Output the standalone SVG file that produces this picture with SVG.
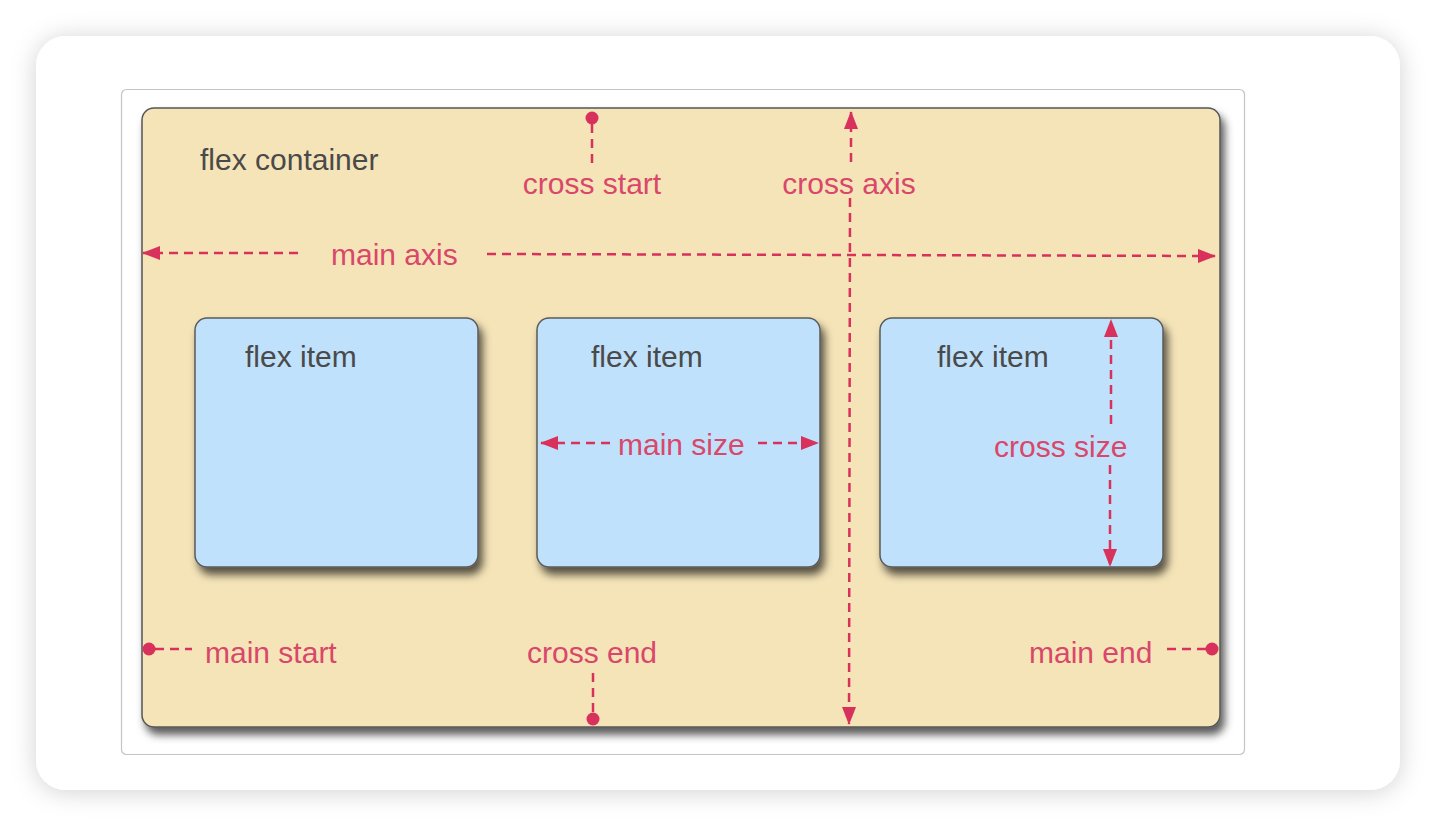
<svg xmlns="http://www.w3.org/2000/svg" width="1436" height="826" viewBox="0 0 1436 826">
  <defs>
    <filter id="cardShadow" x="-10%" y="-10%" width="120%" height="125%">
      <feDropShadow dx="0" dy="2" stdDeviation="12" flood-color="#000" flood-opacity="0.18"/>
    </filter>
    <filter id="boxShadow" x="-10%" y="-10%" width="125%" height="130%">
      <feDropShadow dx="4" dy="7" stdDeviation="4.5" flood-color="#000" flood-opacity="0.65"/>
    </filter>
    <marker id="arrow" viewBox="0 0 18 14" refX="17" refY="7" markerWidth="18" markerHeight="14" markerUnits="userSpaceOnUse" orient="auto-start-reverse">
      <path d="M0,0 L18,7 L0,14 Z" fill="#d8315b"/>
    </marker>
  </defs>
  <style>
    .lbl { font-family: "Liberation Sans", Arial, Helvetica, sans-serif; font-size: 30px; }
    .dark { fill: #4a4a4a; }
    .red { fill: #d9476a; }
    .dash { stroke: #d8315b; stroke-width: 2.5; stroke-dasharray: 9 6; fill: none; }
    .dot { fill: #d8315b; }
    .item { fill: #c0e1fb; stroke: #5a5a5a; stroke-width: 1.5; }
  </style>

  <rect x="0" y="0" width="1436" height="826" fill="#ffffff"/>
  <rect id="card" x="36" y="36" width="1364" height="754" rx="30" fill="#ffffff" filter="url(#cardShadow)"/>
  <rect id="frame" x="121.5" y="89.5" width="1123" height="665" rx="5" fill="#ffffff" stroke="#c4c4c4" stroke-width="1.2"/>

  <g id="container">
    <rect x="142" y="108" width="1078" height="619" rx="12" fill="#f5e4b8" stroke="#555555" stroke-width="1.5" filter="url(#boxShadow)"/>
    <text class="lbl dark" x="200" y="170">flex container</text>
  </g>

  <g id="item1">
    <rect class="item" x="195" y="318" width="283" height="249" rx="12" filter="url(#boxShadow)"/>
    <text class="lbl dark" x="245" y="367">flex item</text>
  </g>
  <g id="item2">
    <rect class="item" x="537" y="318" width="283" height="249" rx="12" filter="url(#boxShadow)"/>
    <text class="lbl dark" x="591" y="367">flex item</text>
  </g>
  <g id="item3">
    <rect class="item" x="880" y="318" width="283" height="249" rx="12" filter="url(#boxShadow)"/>
    <text class="lbl dark" x="937" y="367">flex item</text>
  </g>

  <g id="connectors">
    <!-- main axis -->
    <line class="dash" x1="298" y1="253" x2="143" y2="253" marker-end="url(#arrow)"/>
    <line class="dash" x1="487" y1="254" x2="1215" y2="256" marker-end="url(#arrow)"/>
    <!-- cross axis -->
    <line class="dash" x1="851" y1="162" x2="851" y2="112" marker-end="url(#arrow)"/>
    <line class="dash" x1="850" y1="198" x2="849" y2="724" marker-end="url(#arrow)"/>
    <!-- cross start -->
    <circle class="dot" cx="592" cy="118" r="6.5"/>
    <line class="dash" x1="592" y1="124" x2="592" y2="164"/>
    <!-- cross end -->
    <line class="dash" x1="593" y1="673" x2="593" y2="714"/>
    <circle class="dot" cx="593" cy="719" r="6.5"/>
    <!-- main start -->
    <circle class="dot" cx="149" cy="649" r="6.5"/>
    <line class="dash" x1="155" y1="649" x2="192" y2="649"/>
    <!-- main end -->
    <line class="dash" x1="1167" y1="649" x2="1206" y2="649"/>
    <circle class="dot" cx="1212" cy="649" r="6.5"/>
    <!-- main size -->
    <line class="dash" x1="610" y1="443" x2="541" y2="443" marker-end="url(#arrow)"/>
    <line class="dash" x1="758" y1="443" x2="818" y2="443" marker-end="url(#arrow)"/>
    <!-- cross size -->
    <line class="dash" x1="1111" y1="424" x2="1111" y2="320" marker-end="url(#arrow)"/>
    <line class="dash" x1="1110" y1="465" x2="1110" y2="566" marker-end="url(#arrow)"/>
  </g>

  <g id="labels">
    <text class="lbl red" x="592" y="194" text-anchor="middle">cross start</text>
    <text class="lbl red" x="849" y="194" text-anchor="middle">cross axis</text>
    <text class="lbl red" x="331" y="265">main axis</text>
    <text class="lbl red" x="618" y="455">main size</text>
    <text class="lbl red" x="994" y="457">cross size</text>
    <text class="lbl red" x="205" y="663">main start</text>
    <text class="lbl red" x="592" y="663" text-anchor="middle">cross end</text>
    <text class="lbl red" x="1029" y="663">main end</text>
  </g>
</svg>
